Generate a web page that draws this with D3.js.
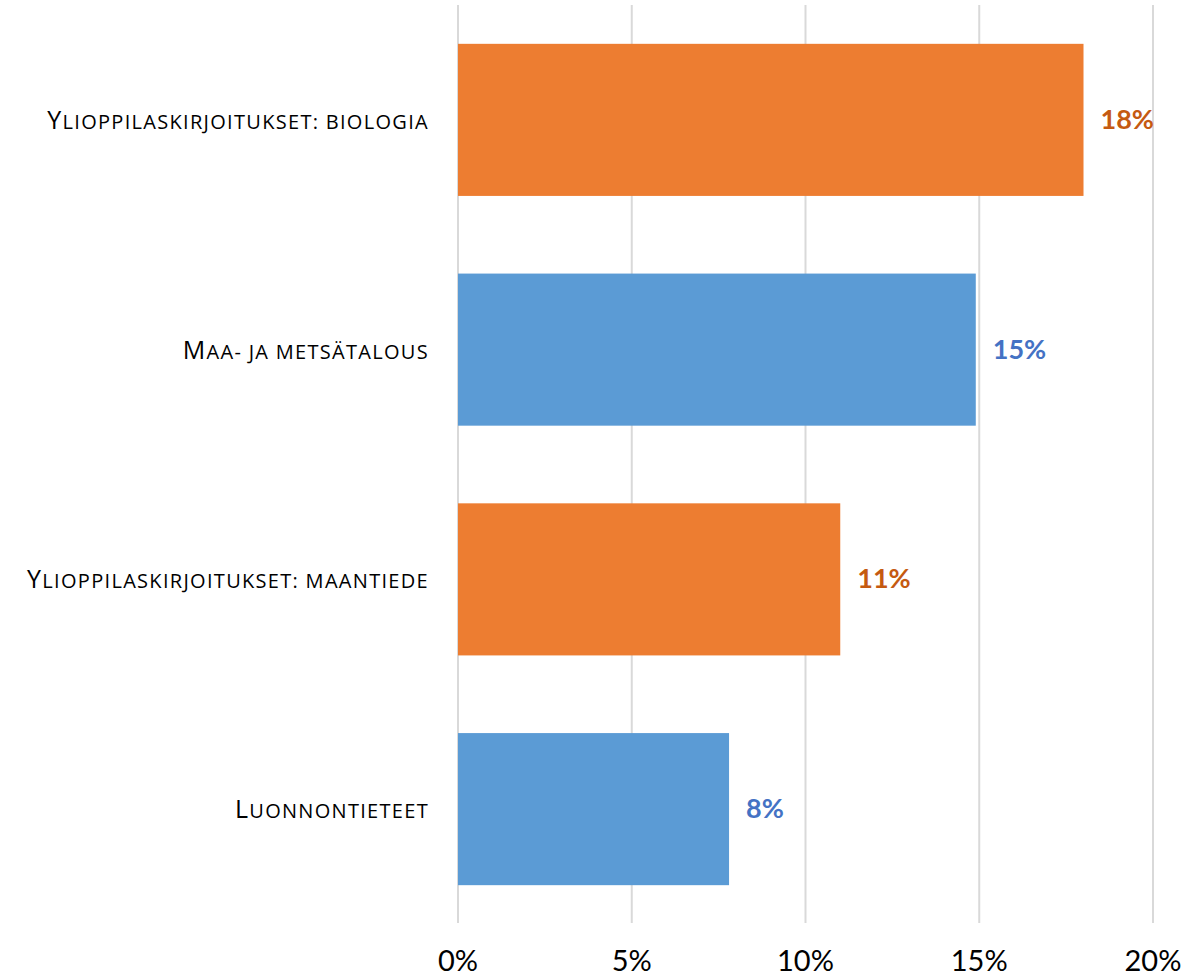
<!DOCTYPE html>
<html>
<head>
<meta charset="utf-8">
<script src="https://cdn.jsdelivr.net/npm/d3@7"></script>
<style>
  body { margin: 0; background: #fff; }
  svg text { font-family: Lato, "Open Sans", sans-serif; }
</style>
</head>
<body>
<div id="chart"></div>
<script>
const categories = ["Ylioppilaskirjoitukset: biologia", "Maa- ja metsätalous", "Ylioppilaskirjoitukset: maantiede", "Luonnontieteet"];
const values = [0.18, 0.149, 0.11, 0.078];
const valueLabels = ["18%", "15%", "11%", "8%"];
const barColors = ["#ED7D31", "#5B9BD5", "#ED7D31", "#5B9BD5"];
const labelColors = ["#C55A11", "#4472C4", "#C55A11", "#4472C4"];
const ticks = [0, 0.05, 0.10, 0.15, 0.20];

const width = 1198, height = 977;
const svg = d3.select("#chart").append("svg")
  .attr("width", width)
  .attr("height", height);

const x = d3.scaleLinear().domain([0, 0.2]).range([458, 1153]);
const y = d3.scaleBand().domain(categories).range([5, 924]).paddingInner(0.338).paddingOuter(0.169);

// gridlines
svg.append("g").selectAll("line")
  .data(ticks)
  .enter()
  .append("line")
  .attr("x1", d => x(d)).attr("x2", d => x(d))
  .attr("y1", 5).attr("y2", 923)
  .attr("stroke", "#D9D9D9")
  .attr("stroke-width", 2);

// tick labels
svg.append("g").selectAll("text")
  .data(ticks)
  .enter()
  .append("text")
  .attr("x", d => x(d))
  .attr("y", 971)
  .attr("text-anchor", "middle")
  .attr("font-size", 29)
  .attr("fill", "#000")
  .text(d => d3.format(".0%")(d));

// bars
svg.append("g").selectAll("rect")
  .data(categories)
  .enter()
  .append("rect")
  .attr("x", x(0))
  .attr("y", d => y(d))
  .attr("width", (d, i) => x(values[i]) - x(0))
  .attr("height", y.bandwidth())
  .attr("fill", (d, i) => barColors[i]);

// value labels
svg.append("g").selectAll("text")
  .data(categories)
  .enter()
  .append("text")
  .attr("x", (d, i) => x(values[i]) + 17)
  .attr("y", d => y(d) + y.bandwidth() / 2 + 9)
  .attr("font-size", 27)
  .attr("font-weight", "bold")
  .attr("fill", (d, i) => labelColors[i])
  .text((d, i) => valueLabels[i]);

// category labels, small caps built by hand: capitals big, the rest as smaller capitals
function runs(s) {
  const out = [];
  for (const ch of s) {
    const big = ch !== ch.toLowerCase();
    const last = out[out.length - 1];
    if (last && last.big === big) last.t += ch;
    else out.push({ big: big, t: ch });
  }
  return out;
}

const catLabels = svg.append("g").selectAll("text")
  .data(categories)
  .enter()
  .append("text")
  .attr("x", 429)
  .attr("y", d => y(d) + y.bandwidth() / 2 + 9)
  .attr("text-anchor", "end")
  .style("font-family", "'Open Sans', sans-serif")
  .attr("fill", "#000");

catLabels.selectAll("tspan")
  .data(d => runs(d))
  .enter()
  .append("tspan")
  .style("font-size", d => (d.big ? 25 : 20) + "px")
  .style("letter-spacing", "1.3px")
  .text(d => d.t.toUpperCase());
</script>
</body>
</html>
